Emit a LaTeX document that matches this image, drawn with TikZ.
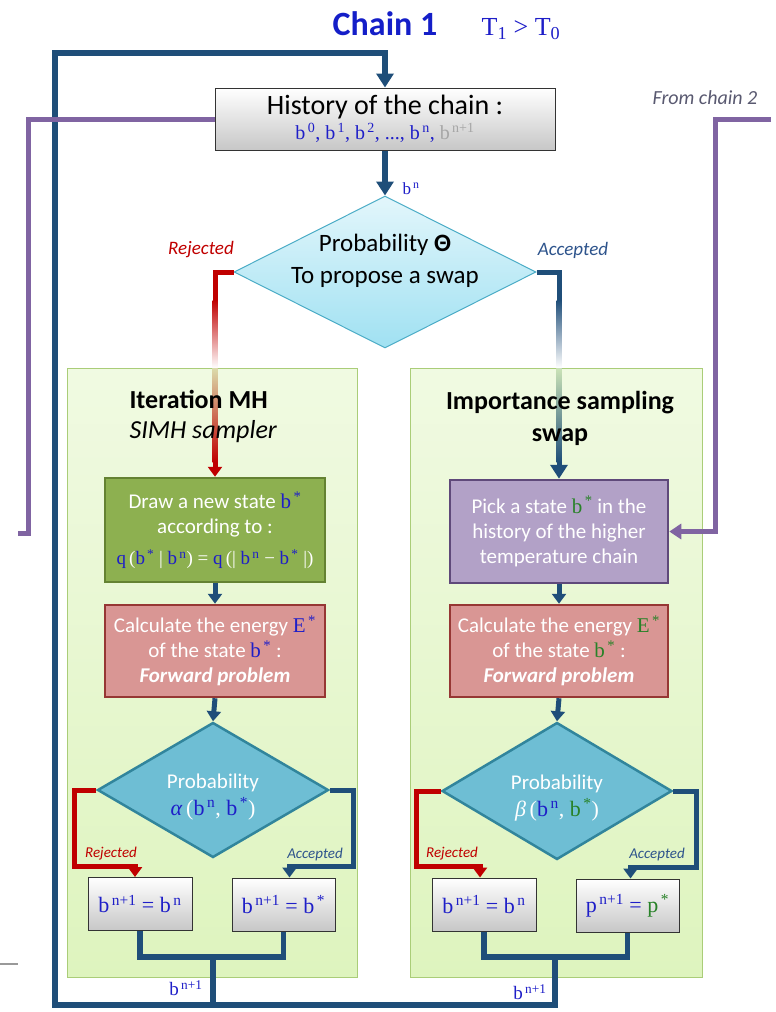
\documentclass[tikz,border=0pt]{standalone}
\usepackage{fontspec}
\setmainfont{Carlito}
\newfontfamily\tms{Liberation Serif}
\usetikzlibrary{arrows.meta,shapes.geometric,calc}

\definecolor{loopblue}{RGB}{31,78,121}
\definecolor{swappurple}{RGB}{128,100,162}
\definecolor{rejred}{RGB}{192,0,0}
\definecolor{accblue}{RGB}{46,84,140}
\definecolor{titleblue}{RGB}{20,30,200}
\definecolor{mathblue}{RGB}{30,30,200}
\definecolor{mathgreen}{RGB}{40,130,40}
\definecolor{panelfill}{RGB}{222,244,190}
\definecolor{panelline}{RGB}{170,205,120}
\definecolor{drawgreen}{RGB}{141,176,80}
\definecolor{drawgreenline}{RGB}{100,130,50}
\definecolor{energyred}{RGB}{217,150,148}
\definecolor{energyline}{RGB}{150,55,52}
\definecolor{pickpurple}{RGB}{178,161,199}
\definecolor{pickline}{RGB}{95,73,122}
\definecolor{swapcyan}{RGB}{160,225,242}
\definecolor{swapline}{RGB}{75,172,198}
\definecolor{probcyan}{RGB}{110,190,212}
\definecolor{probline}{RGB}{49,133,156}
\definecolor{fromgray}{RGB}{89,89,112}

\newcommand{\fs}[1]{\fontsize{#1}{#1}\selectfont}
\newcommand{\sps}[1]{\textsuperscript{\,#1}}
\newcommand{\vb}[1]{{\tms\color{mathblue}#1}}
\newcommand{\vg}[1]{{\tms\color{mathgreen}#1}}

\tikzset{
  flow/.style={loopblue, line width=5.5pt},
  flowarrow/.style={flow, -{Triangle[width=17pt,length=14pt]}},
  smallarrow/.style={flow, line width=5pt, -{Triangle[width=14pt,length=10pt]}},
  rejarrow/.style={rejred, line width=5pt, -{Triangle[width=14pt,length=10pt]}},
  purparrow/.style={swappurple, line width=5pt, -{Triangle[width=15pt,length=12pt]}},
  panel/.style={draw=panelline, line width=1pt, top color=panelfill!45!white,
    bottom color=panelfill, minimum height=609pt},
  stepbox/.style={line width=2.5pt, minimum width=220pt, inner sep=0pt,
    align=center, text=white, font=\fontsize{21}{25}\selectfont},
  drawbox/.style={stepbox, draw=drawgreenline, fill=drawgreen, minimum height=104pt},
  energybox/.style={stepbox, draw=energyline, fill=energyred, minimum height=92pt},
  pickbox/.style={stepbox, draw=pickline, fill=pickpurple, minimum height=103pt,
    minimum width=218pt},
  graybox/.style={draw=black!80, line width=1pt, top color=white,
    bottom color=black!22, minimum height=53pt, minimum width=104pt,
    inner sep=0pt, align=center},
  probdia/.style={shape=diamond, draw=probline, line width=2.5pt, fill=probcyan,
    minimum width=231pt, minimum height=135pt, inner sep=0pt},
  rejlabel/.style={text=rejred, font=\itshape\fs{19}},
  acclabel/.style={text=accblue, font=\itshape\fs{19}}
}

\begin{document}
\begin{tikzpicture}[x=1pt, y=-1pt]
\useasboundingbox (0,0) rectangle (776,1012);

% panels
\node[panel, minimum width=290pt] (mhpanel) at (212,672.5) {};
\node[panel, minimum width=292pt] (ispanel) at (556,672.5) {};

% title
\node[font=\bfseries\fs{34}, text=titleblue] (chain) at (385,24) {Chain 1};
\node[font=\tms\fs{26}, text=mathblue] (temps) at (521,29) {T\textsubscript{1} > T\textsubscript{0}};

% history and swap decision
\node[graybox, minimum width=340pt, minimum height=62pt] (hist) at (385,119)
  {{\fs{28}History of the chain :}\\[3pt]
   {\tms\fs{20}\vb{b\sps{0}, b\sps{1}, b\sps{2}, ..., b\sps{n},} {\color{black!35}b\sps{n+1}}}};
\node[shape=diamond, draw=swapline, line width=1pt, top color=swapcyan!30!white,
  bottom color=swapcyan, minimum width=302pt, minimum height=152pt, inner sep=0pt]
  (swap) at (385,272) {};
\node[align=center, font=\fontsize{25}{32}\selectfont] (swaptext) at (385,261)
  {Probability \textbf{Θ}\\To propose a swap};
\node[font=\fs{17}] (bn) at (411,189) {\vb{b\sps{n}}};
\node[rejlabel] (rej) at (201,250) {Rejected};
\node[acclabel] (acc) at (573,250) {Accepted};
\node[text=fromgray, font=\itshape\fs{20}] (from) at (705,98) {From chain 2};

% left column : MH
\node[drawbox] (newstate) at (215,530)
  {Draw a new state \vb{b\sps{*}}\\ according to :\\[6pt]
   {\tms\fs{19}\vb{q}\,(\vb{b\sps{*}} | \vb{b\sps{n}}) = \vb{q}\,(| \vb{b\sps{n}} − \vb{b\sps{*}} |)}};
\node[energybox] (energyL) at (215,651)
  {Calculate the energy \vb{E\sps{*}}\\ of the state \vb{b\sps{*}} :\\
   \textbf{\textit{Forward problem}}};
\node[probdia] (probL) at (213,790) {};
\node[text=white, align=center, font=\fs{21}] (probLtext) at (213,797)
  {Probability\\[6pt] {\tms\fs{22}\vb{\textit{α}}\,(\vb{b\sps{n}}, \vb{b\sps{*}})}};
\node[graybox] (outL1) at (140,904) {\tms\fs{22}\vb{b\sps{n+1} = b\sps{n}}};
\node[graybox, minimum width=103pt] (outL2) at (283.5,904.5) {\tms\fs{22}\vb{b\sps{n+1} = b\sps{*}}};

% right column : importance sampling swap
\node[pickbox] (pick) at (559,531.5)
  {Pick a state \vg{b\sps{*}} in the\\ history of the higher\\ temperature chain};
\node[energybox, minimum width=218pt] (energyR) at (559,651)
  {Calculate the energy \vg{E\sps{*}}\\ of the state \vg{b\sps{*}} :\\
   \textbf{\textit{Forward problem}}};
\node[probdia, minimum width=230pt, minimum height=137pt] (probR) at (557,791) {};
\node[text=white, align=center, font=\fs{21}] (probRtext) at (557,798)
  {Probability\\[6pt] {\tms\fs{22}\textit{β}\,(\vb{b\sps{n}}, \vg{b\sps{*}})}};
\node[graybox] (outR1) at (484,904.5) {\tms\fs{22}\vb{b\sps{n+1} = b\sps{n}}};
\node[graybox, minimum width=103pt] (outR2) at (627.5,905.5)
  {\tms\fs{22}\vb{p\sps{n+1} = }\vg{p\sps{*}}};

\coordinate (mhjoin) at (213,957);
\coordinate (isjoin) at (555,957);
\coordinate (loopcorner) at (55,53);
\coordinate (fromtwo) at (771,119);
\coordinate (totwo) at (18,533);

% connectors
\draw[flowarrow] (hist.south) -- (swap.north);
\draw[rejarrow] (swap.west) -| (newstate.north);
\draw[flowarrow, line width=5pt] (swap.east) -| (pick.north);
\draw[smallarrow] (newstate.south) -- (energyL.north);
\draw[smallarrow] (energyL.south) -- (probL.north);
\draw[smallarrow] (pick.south) -- (energyR.north);
\draw[smallarrow] (energyR.south) -- (probR.north);

\draw[rejarrow] (probL.west) -- ++(-22,0) |- ($(outL1.north)+(-5,-11)$) -- ($(outL1.north)+(-5,0)$);
\draw[smallarrow] (probL.east) -- ++(24,0) |- ($(outL2.north)+(6,-11)$) -- ($(outL2.north)+(6,0)$);
\draw[rejarrow] (probR.west) -- ++(-24,0) |- ($(outR1.north)+(-4,-11)$) -- ($(outR1.north)+(-4,0)$);
\draw[smallarrow] (probR.east) -- ++(23,0) |- ($(outR2.north)+(3,-11)$) -- ($(outR2.north)+(3,0)$);

\draw[flow] (outL1.south) |- (mhjoin) -| (outL2.south);
\draw[flow] (outR1.south) |- (isjoin) -| (outR2.south);
\draw[flow] (mhjoin) -- ++(0,48);
\draw[flowarrow] (isjoin) -- ++(0,48) -| (loopcorner) -| (hist.north);

\draw[purparrow] (fromtwo) -- ++(-56,0) |- (pick.east);
\draw[swappurple, line width=5pt] (hist.west) -| ($(totwo)+(10,0)$) -- (totwo);
\draw[black!40, line width=1.5pt] (0,964) -- (18,964);

% fading of the two branches
\shade[top color=rejred, bottom color=white] (212.5,300) rectangle (217.5,368);
\shade[top color=rejred!10!panelfill, bottom color=rejred] (212.5,368) rectangle (217.5,462);
\shade[top color=loopblue, bottom color=white] (556.5,300) rectangle (561.5,368);
\shade[top color=loopblue!10!panelfill, bottom color=loopblue] (556.5,368) rectangle (561.5,462);

\node[font=\fs{19}] (bl) at (186,988) {\vb{b\sps{n+1}}};
\node[font=\fs{19}] (br) at (530,992) {\vb{b\sps{n+1}}};
\node[rejlabel, font=\itshape\fs{15}] (rejL) at (111,854) {Rejected};
\node[acclabel, font=\itshape\fs{15}] (accL) at (315,854) {Accepted};
\node[rejlabel, font=\itshape\fs{15}] (rejR) at (452,854) {Rejected};
\node[acclabel, font=\itshape\fs{15}] (accR) at (657,854) {Accepted};

% panel titles
\node[align=left, anchor=west, font=\fontsize{26}{30}\selectfont] (mhtitle) at (126,416)
  {\textbf{Iteration MH}\\ \textit{SIMH sampler}};
\node[align=center, font=\bfseries\fontsize{26}{32}\selectfont] (istitle) at (560,418)
  {Importance sampling\\ swap};
\end{tikzpicture}
\end{document}
